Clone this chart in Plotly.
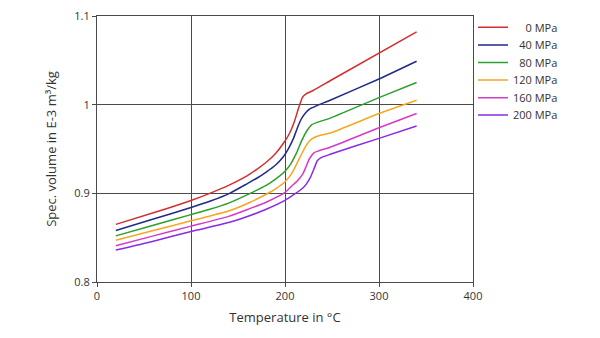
import plotly.graph_objects as go

series_names = ["\u2007\u20070 MPa", "\u200740 MPa", "\u200780 MPa", "120 MPa", "160 MPa", "200 MPa"]
colors = ["#d32f2f", "#1f2a8a", "#2ca02c", "#f5a623", "#d63ac8", "#8a2be2"]

t_0 = [20, 60, 100, 120, 140, 160, 170, 180, 190, 200, 205, 210, 215, 219, 222, 230, 248, 340]
v_0 = [0.865, 0.878, 0.892, 0.900, 0.909, 0.920, 0.927, 0.935, 0.945, 0.959, 0.968, 0.981, 0.998, 1.009, 1.012, 1.016, 1.027, 1.082]

t_40 = [20, 60, 100, 120, 141, 160, 170, 180, 190, 198, 204, 209, 214, 218, 222, 226, 234, 248, 300, 340]
v_40 = [0.858, 0.871, 0.884, 0.891, 0.900, 0.911, 0.917, 0.924, 0.932, 0.941, 0.951, 0.962, 0.976, 0.985, 0.991, 0.995, 0.999, 1.005, 1.029, 1.049]

t_80 = [20, 60, 100, 120, 140, 163, 180, 190, 200, 206, 212, 218, 223, 228, 234, 246, 300, 340]
v_80 = [0.852, 0.864, 0.876, 0.882, 0.889, 0.900, 0.909, 0.916, 0.925, 0.933, 0.945, 0.960, 0.970, 0.977, 0.980, 0.984, 1.008, 1.025]

t_120 = [20, 60, 100, 140, 163, 180, 190, 200, 208, 217, 222, 226, 231, 236, 248, 300, 340]
v_120 = [0.847, 0.858, 0.869, 0.880, 0.890, 0.899, 0.905, 0.913, 0.924, 0.943, 0.953, 0.959, 0.963, 0.965, 0.968, 0.990, 1.005]

t_160 = [20, 60, 100, 140, 163, 180, 200, 207, 213, 219, 222, 226, 231, 236, 248, 300, 340]
v_160 = [0.841, 0.852, 0.863, 0.874, 0.883, 0.890, 0.901, 0.908, 0.914, 0.922, 0.929, 0.939, 0.946, 0.948, 0.952, 0.974, 0.990]

t_200 = [20, 60, 100, 140, 163, 180, 200, 210, 219, 223, 227, 231, 234.5, 238, 248, 300, 340]
v_200 = [0.836, 0.846, 0.857, 0.867, 0.875, 0.882, 0.892, 0.899, 0.906, 0.911, 0.918, 0.928, 0.937, 0.940, 0.944, 0.962, 0.976]

temps = [t_0, t_40, t_80, t_120, t_160, t_200]
vols = [v_0, v_40, v_80, v_120, v_160, v_200]

x_ticks = [0, 100, 200, 300, 400]
y_ticks = [0.8, 0.9, 1.0, 1.1]
y_tick_text = ["0.8", "0.9", "1", "1.1"]

legend_keys = ["legend", "legend2", "legend3", "legend4", "legend5", "legend6"]
legend_rows_px = [27.3, 45, 62.5, 80, 97.7, 115]

fig = go.Figure()
for name, col, t, v, lk in zip(series_names, colors, temps, vols, legend_keys):
    fig.add_trace(go.Scatter(x=t, y=v, mode="lines", name=name, legend=lk, showlegend=True,
                             line=dict(color=col, width=1.5, shape="spline", smoothing=0.6)))

axis_col = "#4a4a4a"
plot_top, plot_bottom = 16, 282
legends = {}
for lk, ypx in zip(legend_keys, legend_rows_px):
    legends[lk] = dict(x=1.0, xanchor="left", y=(plot_bottom - ypx) / (plot_bottom - plot_top),
                       yanchor="middle", font=dict(size=11, color="#333333"),
                       bgcolor="rgba(0,0,0,0)")

fig.update_layout(
    width=600, height=338, showlegend=True,
    margin=dict(l=97, r=127, t=plot_top, b=338 - plot_bottom),
    paper_bgcolor="white", plot_bgcolor="white",
    font=dict(family="Open Sans", size=11, color="#333333"),
    xaxis=dict(range=[0, 400], tickvals=x_ticks, showgrid=True, gridcolor=axis_col, gridwidth=1,
               showline=True, linecolor=axis_col, linewidth=1, mirror=True, automargin=False,
               ticks="outside", ticklen=4, tickcolor=axis_col, zeroline=False,
               title=dict(text="Temperature in °C", standoff=10)),
    yaxis=dict(range=[0.8, 1.1], tickvals=y_ticks, ticktext=y_tick_text, showgrid=True,
               gridcolor=axis_col, gridwidth=1, automargin=False,
               showline=True, linecolor=axis_col, linewidth=1, mirror=True,
               ticks="outside", ticklen=4, tickcolor=axis_col, zeroline=False,
               title=dict(text="Spec. volume in E-3 m³/kg", standoff=14)),
    **legends,
)

fig.write_html("out.html")
